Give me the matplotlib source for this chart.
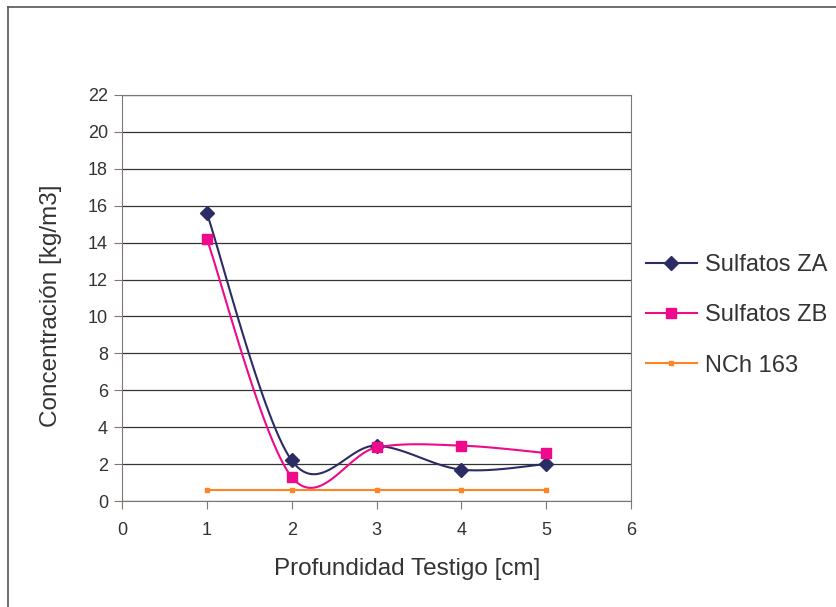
import numpy as np
import matplotlib.pyplot as plt
from matplotlib.lines import Line2D

plt.rcParams['font.family'] = ['Liberation Sans', 'DejaVu Sans']

# Datos
profundidad = [1, 2, 3, 4, 5]
sulfatos_za = [15.6, 2.2, 3.0, 1.7, 2.0]
sulfatos_zb = [14.2, 1.3, 2.9, 3.0, 2.6]
nch_163 = [0.6, 0.6, 0.6, 0.6, 0.6]


def suavizar(x, y, n=30):
    # curva suavizada tipo Catmull-Rom entre los puntos
    x = np.asarray(x, float)
    y = np.asarray(y, float)
    px = np.concatenate([[x[0]], x, [x[-1]]])
    py = np.concatenate([[y[0]], y, [y[-1]]])
    xs, ys = [], []
    t = np.linspace(0, 1, n)
    for i in range(1, len(px) - 2):
        for p, out in ((px, xs), (py, ys)):
            p0, p1, p2, p3 = p[i - 1], p[i], p[i + 1], p[i + 2]
            c1 = p1 + (p2 - p0) / 6
            c2 = p2 - (p3 - p1) / 6
            b = ((1 - t) ** 3 * p1 + 3 * (1 - t) ** 2 * t * c1
                 + 3 * (1 - t) * t ** 2 * c2 + t ** 3 * p2)
            out.extend(b)
    return np.array(xs), np.array(ys)


fig = plt.figure(figsize=(8.37, 6.07), dpi=100)
ax = fig.add_axes([122 / 837, 106 / 607, 509 / 837, 406 / 607])

series = [
    (sulfatos_za, 'Sulfatos ZA', '#2B2B66', 'D', 7),
    (sulfatos_zb, 'Sulfatos ZB', '#EE0A8A', 's', 7.5),
    (nch_163, 'NCh 163', '#FF8426', 's', 2.2),
]
for y, nombre, color, marca, tam in series:
    xs, ys = suavizar(profundidad, y)
    ax.plot(xs, ys, color=color, lw=1.5)
    ax.plot(profundidad, y, linestyle='none', marker=marca, ms=tam, color=color)
    ax.plot([], [], color=color, lw=1.5, marker=marca, ms=tam, label=nombre)

ax.set_xlim(0, 6)
ax.set_ylim(0, 22)
ax.set_xticks(range(0, 7))
ax.set_yticks(range(0, 23, 2))
ax.grid(axis='y', color='#333333', lw=0.9)
ax.set_axisbelow(True)
for s in ax.spines.values():
    s.set_color('#7f7770')
ax.tick_params(colors='#7f7770', labelcolor='#333333', labelsize=13,
               length=6, direction='out')
ax.tick_params(axis='x', pad=9)
ax.tick_params(axis='y', pad=4)

ax.set_xlabel('Profundidad Testigo [cm]', fontsize=17.5, color='#333333', labelpad=14)
ax.set_ylabel('Concentración [kg/m3]', fontsize=17.5, color='#333333', labelpad=19)
ax.xaxis.label.set_x(0.561)
ax.yaxis.label.set_y(0.48)

handles, labels = ax.get_legend_handles_labels()
fig.legend(handles, labels, loc='upper left', bbox_to_anchor=(646 / 837, 1 - 254 / 607),
           frameon=False, fontsize=17, labelspacing=1.2, handlelength=2.15,
           handletextpad=0.34, borderpad=0, borderaxespad=0, labelcolor='#333333')

# marco exterior (solo borde superior e izquierdo)
fig.add_artist(Line2D([8 / 837, 8 / 837], [0, 1 - 7 / 607], transform=fig.transFigure,
                      color='#555555', lw=1.2))
fig.add_artist(Line2D([8 / 837, 1], [1 - 7 / 607, 1 - 7 / 607], transform=fig.transFigure,
                      color='#555555', lw=1.2))

fig.savefig('out.png', dpi=100)
